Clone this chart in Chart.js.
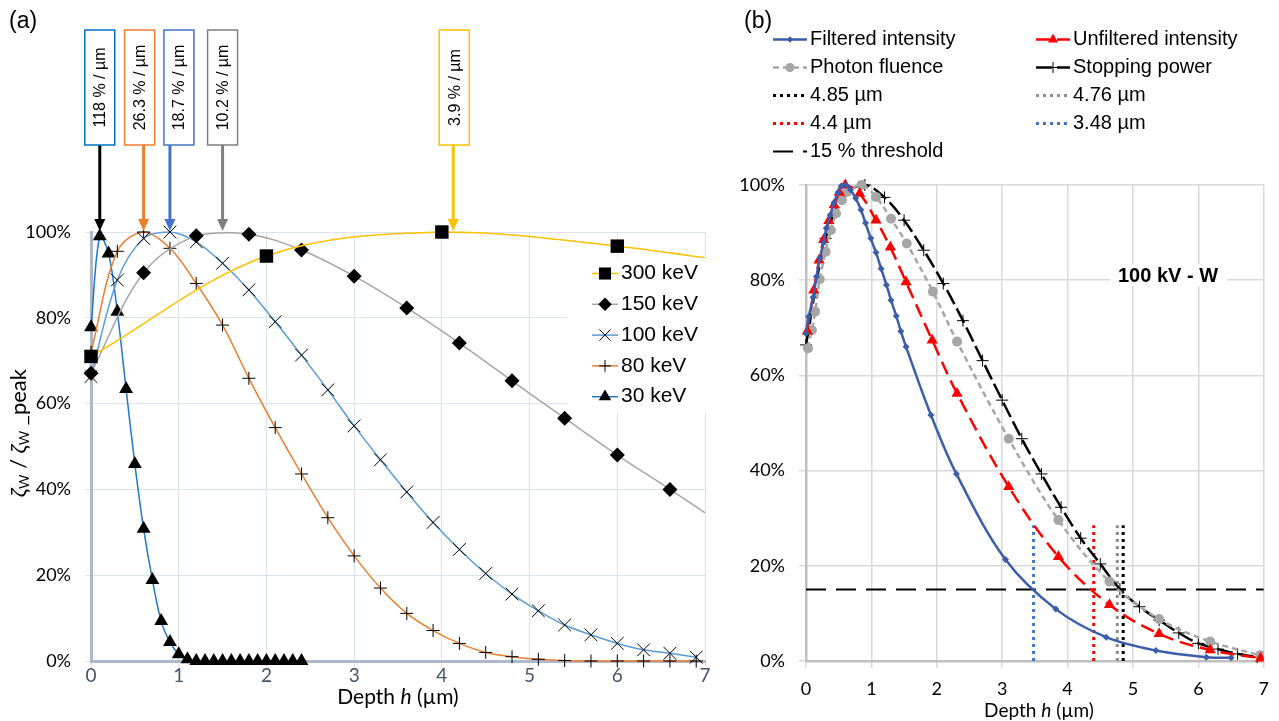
<!DOCTYPE html>
<html>
<head>
<meta charset="utf-8">
<script src="https://cdn.jsdelivr.net/npm/chart.js@4.4.1/dist/chart.umd.min.js"></script>
<style>
  html, body { margin: 0; padding: 0; background: #fff; }
  #wrap { position: relative; width: 1279px; height: 721px; overflow: hidden; }
  .panel { position: absolute; top: 0; height: 721px; }
</style>
</head>
<body>
<div id="wrap">
  <div class="panel" style="left:0;width:730px"><canvas id="chartA"></canvas></div>
  <div class="panel" style="left:730px;width:549px"><canvas id="chartB"></canvas></div>
</div>
<script>
// ---- panel (a): normalised zeta_W depth profiles per beam energy ----
const depth03 = [0, 0.3, 0.6, 0.9, 1.2, 1.5, 1.8, 2.1, 2.4, 2.7, 3.0, 3.3, 3.6, 3.9, 4.2, 4.5, 4.8, 5.1, 5.4, 5.7, 6.0, 6.3, 6.6, 6.9];

const depth300 = [0, 2, 4, 6, 8];
const zeta300 = [71, 94.4, 100, 96.7, 91];

const depth150 = [0, 0.6, 1.2, 1.8, 2.4, 3.0, 3.6, 4.2, 4.8, 5.4, 6.0, 6.6, 7.2];
const zeta150 = [67.1, 90.5, 99.1, 99.5, 95.8, 89.7, 82.3, 74.1, 65.3, 56.6, 48.0, 40.0, 31.8];

const zeta100 = [66.3, 88.8, 98.5, 100, 97.7, 92.7, 86.5, 79.1, 71.3, 63.2, 54.8, 46.9, 39.4, 32.3, 26.0, 20.4, 15.6, 11.7, 8.4, 6.1, 4.1, 2.6, 1.8, 0.9];

const zeta80 = [72, 95.5, 100, 96.2, 88.0, 78.3, 65.9, 54.4, 43.6, 33.4, 24.5, 17.0, 11.1, 7.1, 4.1, 2.0, 1.0, 0.4, 0.1, 0, 0, 0, 0, 0];

const depth30 = [0, 0.1, 0.2, 0.3, 0.4, 0.5, 0.6, 0.7, 0.8, 0.9, 1.0, 1.1, 1.2, 1.3, 1.4, 1.5, 1.6, 1.7, 1.8, 1.9, 2.0, 2.1, 2.2, 2.3, 2.4];
const zeta30 = [77.8, 99.0, 95.0, 81.4, 63.4, 45.9, 30.8, 18.9, 9.3, 4.4, 1.6, 0.4, 0, 0, 0, 0, 0, 0, 0, 0, 0, 0, 0, 0, 0];

// peak gradients and the depth each arrow points at
const peakLabels = ['118 % / µm', '26.3 % / µm', '18.7 % / µm', '10.2 % / µm', '3.9 % / µm'];
const peakDepths = [0.1, 0.6, 0.9, 1.5, 4.13];

// ---- panel (b): 100 kV tungsten ----
const filteredDepth = [0, 0.04, 0.11, 0.16, 0.21, 0.27, 0.31, 0.37, 0.43, 0.49, 0.54, 0.61, 0.68, 0.76, 0.84, 0.91, 0.99, 1.07, 1.15, 1.23, 1.30, 1.38, 1.45, 1.53, 1.91, 2.30, 3.05, 3.82, 4.59, 5.35, 6.12, 6.50];
const filteredValue = [68.8, 72.3, 76.4, 80.7, 84.6, 87.9, 90.9, 93.7, 96.3, 98.4, 99.8, 100, 99.0, 97.2, 94.8, 92.0, 88.8, 85.8, 82.4, 79.0, 75.8, 72.5, 69.3, 66.0, 51.7, 39.3, 21.3, 10.9, 5.0, 2.2, 0.8, 0.7];

const unfilteredDepth = [0.02, 0.12, 0.20, 0.27, 0.35, 0.43, 0.51, 0.60, 0.82, 1.07, 1.29, 1.53, 1.93, 2.31, 3.10, 3.86, 4.64, 5.40, 6.18, 6.95];
const unfilteredValue = [69.3, 77.9, 84.2, 88.5, 92.5, 95.8, 98.4, 100, 98.2, 92.6, 86.9, 79.6, 67.4, 56.2, 36.6, 21.9, 11.8, 5.7, 2.3, 0.6];

const fluenceDepth = [0.03, 0.09, 0.14, 0.21, 0.30, 0.38, 0.46, 0.55, 0.63, 0.85, 1.07, 1.30, 1.54, 1.94, 2.31, 3.10, 3.86, 4.64, 5.40, 6.18, 6.95];
const fluenceValue = [65.7, 69.5, 73.4, 80.2, 86.0, 90.5, 94.0, 96.8, 98.6, 100, 97.5, 92.9, 87.7, 77.6, 67.1, 46.7, 29.6, 16.7, 8.8, 4.1, 1.2];

const stoppingValue = [66.4, 88.8, 98.1, 100, 97.4, 92.6, 86.3, 79.3, 71.5, 63.1, 54.8, 46.7, 39.3, 32.3, 25.8, 20.4, 15.1, 11.4, 8.6, 5.9, 3.7, 2.5, 1.5, 0.8];

// depths where each profile drops to the threshold
const cutoffLabels = ['4.85 µm', '4.76 µm', '4.4 µm', '3.48 µm'];
const cutoffDepths = [4.85, 4.76, 4.4, 3.48];
const cutoffTop = 28.5;
const thresholdLevel = 15;

const AXIS_FONT = 'Lato';
const TEXT_FONT = '"Liberation Sans", Arial, sans-serif';

const xy = (xs, ys) => xs.map((x, i) => ({ x: x, y: ys[i] }));

function drawParts(ctx, parts, cx, cy) {
  let total = 0;
  parts.forEach(p => { ctx.font = p.f; p.w = ctx.measureText(p.t).width; total += p.w; });
  let px = cx - total / 2;
  ctx.textAlign = 'left';
  ctx.textBaseline = 'middle';
  parts.forEach(p => { ctx.font = p.f; ctx.fillText(p.t, px, cy + (p.dy || 0)); px += p.w; });
}

function depthTitle(ctx, cx, cy, size) {
  ctx.fillStyle = '#000';
  drawParts(ctx, [
    { t: 'Depth ', f: size + 'px ' + AXIS_FONT },
    { t: 'h', f: 'italic ' + size + 'px ' + AXIS_FONT },
    { t: ' (µm)', f: size + 'px ' + AXIS_FONT }
  ], cx, cy);
}

// legend key: line sample with the dataset's dash and marker, then its label
function drawKey(ctx, ds, x0, x1, y, font) {
  ctx.save();
  ctx.strokeStyle = ds.borderColor;
  ctx.lineWidth = ds.borderWidth;
  ctx.setLineDash(ds.borderDash || []);
  ctx.beginPath(); ctx.moveTo(x0, y); ctx.lineTo(x1, y); ctx.stroke();
  ctx.setLineDash([]);
  if (ds.pointRadius > 0) {
    ctx.fillStyle = ds.pointBackgroundColor;
    ctx.strokeStyle = ds.pointBorderColor;
    ctx.lineWidth = ds.pointBorderWidth;
    Chart.helpers.drawPoint(ctx, {
      pointStyle: ds.pointStyle, radius: ds.pointRadius * 0.9, rotation: 0, borderWidth: ds.pointBorderWidth
    }, (x0 + x1) / 2, y);
  }
  ctx.fillStyle = '#000';
  ctx.font = font;
  ctx.textAlign = 'left';
  ctx.textBaseline = 'middle';
  ctx.fillText(ds.label, x1 + 3, y);
  ctx.restore();
}

function series(label, pts, color, style, radius, extra) {
  return Object.assign({
    label: label,
    data: pts,
    borderColor: color,
    borderWidth: 1.5,
    tension: 0.35,
    pointStyle: style,
    pointRadius: radius,
    pointHoverRadius: radius,
    pointBackgroundColor: '#000',
    pointBorderColor: '#000',
    pointBorderWidth: 0,
    clip: { left: 14, top: 16, right: 0, bottom: 14 }
  }, extra || {});
}

// ---------- panel (a) ----------
const boxColors = ['#0070C0', '#ED7D31', '#4472C4', '#7F7F7F', '#FFC000'];
const arrowColors = ['#000000', '#ED7D31', '#4472C4', '#7F7F7F', '#FFC000'];
const boxShift = [0, -4, 9, 0, 1];

const overlayA = {
  id: 'overlayA',
  afterDraw(chart) {
    const { ctx, scales: { x, y }, chartArea } = chart;
    ctx.save();
    ctx.fillStyle = '#000';
    ctx.font = '23px ' + TEXT_FONT;
    ctx.textAlign = 'left';
    ctx.textBaseline = 'middle';
    ctx.fillText('(a)', 9, 22);

    // peak-gradient call-outs
    const tipY = y.getPixelForValue(100) - 1;
    peakLabels.forEach((label, i) => {
      const ax = x.getPixelForValue(peakDepths[i]);
      const bx = ax + boxShift[i];
      ctx.strokeStyle = arrowColors[i];
      ctx.fillStyle = arrowColors[i];
      ctx.lineWidth = 3;
      ctx.beginPath(); ctx.moveTo(ax, 145); ctx.lineTo(ax, tipY - 10); ctx.stroke();
      ctx.beginPath();
      ctx.moveTo(ax - 5.5, tipY - 12); ctx.lineTo(ax + 5.5, tipY - 12); ctx.lineTo(ax, tipY);
      ctx.closePath(); ctx.fill();

      ctx.fillStyle = '#fff';
      ctx.fillRect(bx - 15, 30, 30, 115);
      ctx.strokeStyle = boxColors[i];
      ctx.lineWidth = 1.5;
      ctx.strokeRect(bx - 15, 30, 30, 115);
      ctx.save();
      ctx.translate(bx + 1, 87.5);
      ctx.rotate(-Math.PI / 2);
      ctx.fillStyle = '#000';
      ctx.font = '16px ' + TEXT_FONT;
      ctx.textAlign = 'center';
      ctx.textBaseline = 'middle';
      ctx.fillText(label, 0, 0);
      ctx.restore();
    });

    // legend inside the plot
    ctx.fillStyle = '#fff';
    ctx.fillRect(567, 258, chartArea.right - 567 + 2, 154);
    chart.data.datasets.forEach((ds, i) => {
      drawKey(ctx, ds, 592, 618, 273.5 + 30.8 * i, '21px ' + TEXT_FONT);
    });

    // axis titles
    depthTitle(ctx, 398, 697, 21);
    ctx.save();
    ctx.translate(19, 433);
    ctx.rotate(-Math.PI / 2);
    ctx.fillStyle = '#000';
    const big = '22px ' + AXIS_FONT, sub = '14px ' + AXIS_FONT, ital = 'italic 22px ' + AXIS_FONT;
    drawParts(ctx, [
      { t: 'ζ', f: ital }, { t: 'W', f: sub, dy: 5 }, { t: ' / ', f: big },
      { t: 'ζ', f: ital }, { t: 'W', f: sub, dy: 5 }, { t: ' _peak', f: big }
    ], 0, 0);
    ctx.restore();
    ctx.restore();
  }
};

new Chart(document.getElementById('chartA'), {
  type: 'line',
  data: {
    datasets: [
      series('300 keV', xy(depth300, zeta300), '#FFC000', 'rect', 9.5),
      series('150 keV', xy(depth150, zeta150), '#A5A5A5', 'rectRot', 7.5),
      series('100 keV', xy(depth03, zeta100), '#5B9BD5', 'crossRot', 9, { pointBorderWidth: 1 }),
      series('80 keV', xy(depth03, zeta80), '#ED7D31', 'cross', 6.5, { pointBorderWidth: 1 }),
      series('30 keV', xy(depth30, zeta30), '#1F78C8', 'triangle', 8)
    ]
  },
  options: {
    responsive: true,
    maintainAspectRatio: false,
    animation: false,
    layout: { padding: { left: 0, right: 25, top: 232, bottom: 0 } },
    plugins: { legend: { display: false }, tooltip: { enabled: false } },
    scales: {
      x: {
        type: 'linear', min: 0, max: 7,
        ticks: { stepSize: 1, color: '#44546A', font: { family: AXIS_FONT, size: 19 }, padding: -3 },
        grid: { color: '#DCE3EE', lineWidth: 1, tickLength: 6 },
        border: { color: '#ADB9CA', width: 3 },
        afterFit: s => { s.height = 60; }
      },
      y: {
        min: 0, max: 100,
        ticks: { stepSize: 20, color: '#000', font: { family: AXIS_FONT, size: 18 }, padding: 14, callback: v => v + '%' },
        grid: { color: '#DCE3EE', lineWidth: 1, tickLength: 6 },
        border: { color: '#ADB9CA', width: 3 },
        afterFit: s => { s.width = 91; }
      }
    }
  },
  plugins: [overlayA]
});

// ---------- panel (b) ----------
const overlayB = {
  id: 'overlayB',
  afterDraw(chart) {
    const { ctx } = chart;
    ctx.save();
    ctx.fillStyle = '#000';
    ctx.font = '23px ' + TEXT_FONT;
    ctx.textAlign = 'left';
    ctx.textBaseline = 'middle';
    ctx.fillText('(b)', 14, 22);

    chart.data.datasets.forEach((ds, i) => {
      const col = i % 2, row = Math.floor(i / 2);
      const x0 = col === 0 ? 43 : 306;
      drawKey(ctx, ds, x0, x0 + 34, 39.5 + 28 * row, '20px ' + TEXT_FONT);
    });

    // beam label
    ctx.fillStyle = '#fff';
    ctx.fillRect(380, 264, 117, 22);
    ctx.fillStyle = '#000';
    ctx.font = 'bold 20px ' + TEXT_FONT;
    ctx.textAlign = 'center';
    ctx.textBaseline = 'middle';
    ctx.fillText('100 kV - W', 438, 276);

    depthTitle(ctx, 309, 711, 19);
    ctx.restore();
  }
};

const cutoffColors = ['#000000', '#8C8C8C', '#FF0000', '#4472C4'];
const cutoffSets = cutoffDepths.map((d, i) => ({
  label: cutoffLabels[i],
  data: [{ x: d, y: 0 }, { x: d, y: cutoffTop }],
  borderColor: cutoffColors[i],
  borderWidth: 3,
  borderDash: [3, 4],
  pointRadius: 0,
  tension: 0
}));

const datasetsB = [
  series('Filtered intensity', xy(filteredDepth, filteredValue), '#3B5DAA', 'rectRot', 3.5,
    { borderWidth: 2.5, pointBackgroundColor: '#3B5DAA', pointBorderColor: '#3B5DAA' }),
  series('Unfiltered intensity', xy(unfilteredDepth, unfilteredValue), '#FF0000', 'triangle', 6.5,
    { borderWidth: 2.5, borderDash: [14, 7], pointBackgroundColor: '#FF0000', pointBorderColor: '#FF0000' }),
  series('Photon fluence', xy(fluenceDepth, fluenceValue), '#A6A6A6', 'circle', 5,
    { borderWidth: 2.5, borderDash: [6, 4], pointBackgroundColor: '#A6A6A6', pointBorderColor: '#A6A6A6' }),
  series('Stopping power', xy(depth03, stoppingValue), '#000000', 'cross', 6,
    { borderWidth: 2.5, borderDash: [16, 5], pointBorderWidth: 1 }),
  cutoffSets[0], cutoffSets[1], cutoffSets[2], cutoffSets[3],
  {
    label: '15 % threshold',
    data: [{ x: 0, y: thresholdLevel }, { x: 7, y: thresholdLevel }],
    borderColor: '#000000',
    borderWidth: 2,
    borderDash: [20, 10],
    pointRadius: 0,
    tension: 0
  }
];

new Chart(document.getElementById('chartB'), {
  type: 'line',
  data: { datasets: datasetsB },
  options: {
    responsive: true,
    maintainAspectRatio: false,
    animation: false,
    layout: { padding: { left: 0, right: 6, top: 185, bottom: 0 } },
    plugins: { legend: { display: false }, tooltip: { enabled: false } },
    scales: {
      x: {
        type: 'linear', min: 0, max: 7,
        ticks: { stepSize: 1, color: '#000', font: { family: AXIS_FONT, size: 18 }, padding: 10 },
        grid: { color: '#D9D9D9', lineWidth: 1.5, tickLength: 7 },
        border: { color: '#BFBFBF', width: 2.5 },
        afterFit: s => { s.height = 60; }
      },
      y: {
        min: 0, max: 100,
        ticks: { stepSize: 20, color: '#000', font: { family: AXIS_FONT, size: 18 }, padding: 14, callback: v => v + '%' },
        grid: { color: '#D9D9D9', lineWidth: 1.5, tickLength: 7 },
        border: { color: '#BFBFBF', width: 2.5 },
        afterFit: s => { s.width = 76; }
      }
    }
  },
  plugins: [overlayB]
});
</script>
</body>
</html>
